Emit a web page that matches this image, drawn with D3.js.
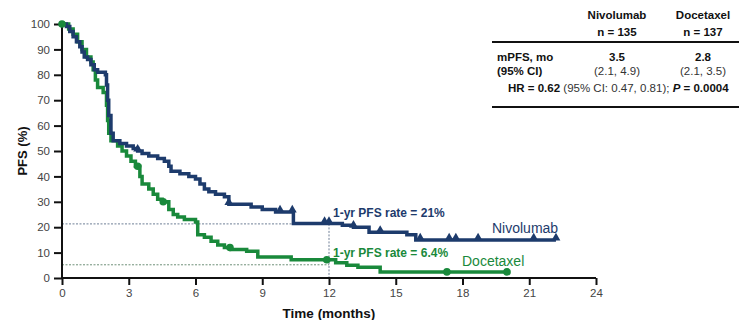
<!DOCTYPE html>
<html>
<head>
<meta charset="utf-8">
<script src="https://cdn.jsdelivr.net/npm/d3@7"></script>
<style>
  body { margin: 0; background: #fff; }
  svg { font-family: "Liberation Sans", Arial, sans-serif; }
</style>
</head>
<body>
<div id="chart"></div>
<script>
// step times (months) and PFS (%) after each step
const nivoTimes = [0, 0.2, 0.35, 0.5, 0.65, 0.8, 0.9, 1.0, 1.15, 1.3, 1.45, 1.6, 1.95, 2.0, 2.05, 2.1, 2.2, 2.3, 2.6, 2.9, 3.2, 3.4, 3.6, 3.9, 4.3, 4.6, 4.8, 4.9, 5.3, 5.7, 6.0, 6.2, 6.4, 6.6, 6.9, 7.3, 7.5, 8.5, 9.0, 9.6, 10.4, 12.6, 13.1, 13.8, 15.5, 15.9, 22.2];
const nivoPFS   = [100, 99, 97, 95, 93, 91, 89, 87, 86, 84, 82, 81, 80, 76, 70, 64, 57, 54, 53, 52, 51, 50, 49, 48, 47, 46, 44, 42, 41, 40, 39, 37, 35, 34, 33, 32, 29, 28, 27, 26, 21.5, 20.8, 20, 18, 17, 15, 15];
const nivoCensor = [3.4, 7.5, 9.8, 10.35, 11.8, 12.0, 13.1, 14.3, 16.1, 17.4, 17.7, 18.7, 21.2, 22.2];

const doceTimes = [0, 0.3, 0.5, 0.7, 0.9, 1.1, 1.3, 1.4, 1.5, 1.6, 1.85, 2.0, 2.05, 2.1, 2.2, 2.5, 2.7, 2.9, 3.1, 3.3, 3.5, 3.6, 3.9, 4.1, 4.3, 4.5, 4.8, 5.0, 5.2, 5.5, 6.0, 6.1, 6.4, 6.7, 7.0, 7.3, 7.6, 8.3, 8.8, 10.3, 12.3, 12.8, 13.3, 14.3, 20.0];
const docePFS   = [100, 98, 96, 93, 90, 87, 85, 82, 78, 75, 73, 68, 62, 57, 54, 52, 50, 48, 46, 44, 40, 37, 35, 33, 31, 30, 27, 25, 24, 23, 22, 17, 16, 14.5, 13, 12, 11.2, 10.5, 8.3, 7.2, 6, 5, 4.2, 2.4, 2.4];
const doceCensor = [0, 3.4, 4.55, 7.55, 11.9, 17.3, 20.0];

const yTicks = [0, 10, 20, 30, 40, 50, 60, 70, 80, 90, 100];
const xTicks = [0, 3, 6, 9, 12, 15, 18, 21, 24];

const refLevels = [21.3, 5.2];       // dotted guide lines as drawn
const refLabels = ['1-yr PFS rate = 21%', '1-yr PFS rate = 6.4%'];
const refMonth = 12;

const seriesNames = ['Nivolumab', 'Docetaxel'];
const seriesN = ['n = 135', 'n = 137'];
const mPFS = ['3.5', '2.8'];
const mPFSci = ['(2.1, 4.9)', '(2.1, 3.5)'];

const navy = '#1d3b6c';
const green = '#19893b';

const width = 739, height = 320;
const margin = {top: 24, left: 62, right: 143, bottom: 42};

const svg = d3.select('#chart').append('svg')
  .attr('width', width).attr('height', height);

const x = d3.scaleLinear().domain([0, 24]).range([margin.left, width - margin.right]);
const y = d3.scaleLinear().domain([0, 100]).range([height - margin.bottom, margin.top]);

// guide lines
svg.append('line')
  .attr('x1', x(0)).attr('x2', x(refMonth))
  .attr('y1', y(refLevels[0])).attr('y2', y(refLevels[0]))
  .attr('stroke', '#6f7f96').attr('stroke-width', 1).attr('stroke-dasharray', '2,1.5');
svg.append('line')
  .attr('x1', x(0)).attr('x2', x(refMonth))
  .attr('y1', y(refLevels[1])).attr('y2', y(refLevels[1]))
  .attr('stroke', '#6f9079').attr('stroke-width', 1).attr('stroke-dasharray', '2,1.5');
svg.append('line')
  .attr('x1', x(refMonth)).attr('x2', x(refMonth))
  .attr('y1', y(refLevels[0])).attr('y2', y(0))
  .attr('stroke', '#6f7f96').attr('stroke-width', 1).attr('stroke-dasharray', '2,1.5');

// axes
const yAxis = svg.append('g')
  .attr('transform', 'translate(' + x(0) + ',0)')
  .call(d3.axisLeft(y).tickValues(yTicks).tickSize(8).tickPadding(4));
const xAxis = svg.append('g')
  .attr('transform', 'translate(0,' + y(0) + ')')
  .call(d3.axisBottom(x).tickValues(xTicks).tickSize(7).tickPadding(4));

[xAxis, yAxis].forEach(function(a) {
  a.select('.domain').attr('stroke', '#111').attr('stroke-width', 2);
  a.selectAll('.tick line').attr('stroke', '#111').attr('stroke-width', 2);
  a.selectAll('.tick text').attr('fill', '#444').style('font-size', '11.5px');
});
yAxis.select('.domain').attr('d', 'M0,' + y(100) + 'V' + y(0));
xAxis.select('.domain').attr('d', 'M' + x(0) + ',0H' + x(24));

svg.append('text')
  .attr('transform', 'translate(27,' + y(50) + ') rotate(-90)')
  .attr('text-anchor', 'middle')
  .style('font-size', '13px').style('font-weight', 'bold').attr('fill', '#111')
  .text('PFS (%)');
svg.append('text')
  .attr('x', x(12)).attr('y', 318)
  .attr('text-anchor', 'middle')
  .style('font-size', '13.5px').style('font-weight', 'bold').attr('fill', '#111')
  .text('Time (months)');

// curves
const line = d3.line()
  .x(function(d) { return x(d[0]); })
  .y(function(d) { return y(d[1]); })
  .curve(d3.curveStepAfter);

function stepValue(times, vals, t) {
  const i = d3.bisectRight(times, t) - 1;
  return vals[Math.max(0, i)];
}

function drawSeries(times, vals, color) {
  const pts = times.map(function(t, i) { return [t, vals[i]]; });
  svg.append('path')
    .attr('d', line(pts))
    .attr('fill', 'none')
    .attr('stroke', color)
    .attr('stroke-width', 3.5)
    .attr('stroke-linejoin', 'miter');
}

drawSeries(doceTimes, docePFS, green);
drawSeries(nivoTimes, nivoPFS, navy);

svg.append('g').selectAll('path')
  .data(nivoCensor).enter().append('path')
  .attr('d', d3.symbol().type(d3.symbolTriangle).size(34))
  .attr('transform', function(t) {
    return 'translate(' + x(t) + ',' + (y(stepValue(nivoTimes, nivoPFS, t)) - 2) + ')';
  })
  .attr('fill', navy);

svg.append('g').selectAll('circle')
  .data(doceCensor).enter().append('circle')
  .attr('cx', function(t) { return x(t); })
  .attr('cy', function(t) { return y(stepValue(doceTimes, docePFS, t)); })
  .attr('r', 3.8)
  .attr('fill', green);

// annotations
svg.append('text')
  .attr('x', 333).attr('y', 217)
  .style('font-size', '12px').style('font-weight', 'bold').attr('fill', navy)
  .text(refLabels[0]);
svg.append('text')
  .attr('x', 333).attr('y', 257)
  .style('font-size', '12px').style('font-weight', 'bold').attr('fill', green)
  .text(refLabels[1]);
svg.append('text')
  .attr('x', 492).attr('y', 233)
  .style('font-size', '14px').attr('fill', navy)
  .text(seriesNames[0]);
svg.append('text')
  .attr('x', 462).attr('y', 266)
  .style('font-size', '14px').attr('fill', green)
  .text(seriesNames[1]);

// summary table
const table = svg.append('g');
const colX = [617, 703];
seriesNames.forEach(function(name, i) {
  table.append('text').attr('x', colX[i]).attr('y', 19)
    .attr('text-anchor', 'middle').style('font-size', '11.5px').style('font-weight', 'bold')
    .attr('fill', '#111').text(name);
  table.append('text').attr('x', colX[i]).attr('y', 36)
    .attr('text-anchor', 'middle').style('font-size', '11.5px').style('font-weight', 'bold')
    .attr('fill', '#111').text(seriesN[i]);
  table.append('text').attr('x', colX[i]).attr('y', 61)
    .attr('text-anchor', 'middle').style('font-size', '11.5px').style('font-weight', 'bold')
    .attr('fill', '#111').text(mPFS[i]);
  table.append('text').attr('x', colX[i]).attr('y', 75)
    .attr('text-anchor', 'middle').style('font-size', '11.5px')
    .attr('fill', '#333').text(mPFSci[i]);
});
table.append('text').attr('x', 497).attr('y', 61)
  .style('font-size', '11.5px').style('font-weight', 'bold').attr('fill', '#111').text('mPFS, mo');
table.append('text').attr('x', 497).attr('y', 75)
  .style('font-size', '11.5px').style('font-weight', 'bold').attr('fill', '#111').text('(95% CI)');

const hr = table.append('text').attr('x', 508).attr('y', 92)
  .style('font-size', '11.5px').attr('fill', '#111');
hr.append('tspan').style('font-weight', 'bold').text('HR =  0.62');
hr.append('tspan').attr('fill', '#333').text(' (95% CI: 0.47, 0.81); ');
hr.append('tspan').style('font-weight', 'bold').style('font-style', 'italic').text('P');
hr.append('tspan').style('font-weight', 'bold').text(' = 0.0004');

table.append('line').attr('x1', 492).attr('x2', 739).attr('y1', 42).attr('y2', 42)
  .attr('stroke', '#111').attr('stroke-width', 2);
table.append('line').attr('x1', 492).attr('x2', 739).attr('y1', 107).attr('y2', 107)
  .attr('stroke', '#111').attr('stroke-width', 2);
</script>
</body>
</html>
